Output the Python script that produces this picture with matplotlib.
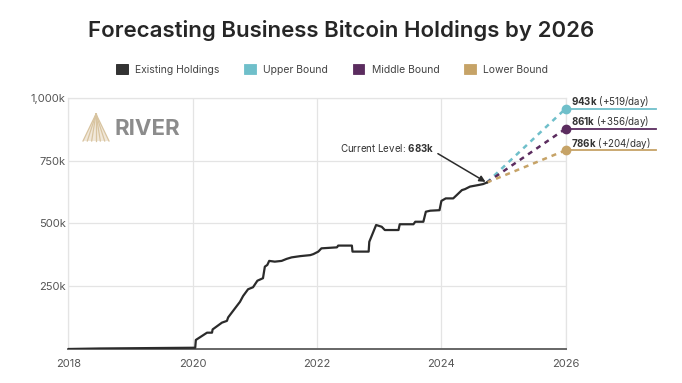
import numpy as np
import matplotlib
matplotlib.use('Agg')
import matplotlib.pyplot as plt
from matplotlib.patches import Patch, Polygon
from matplotlib.lines import Line2D
from matplotlib.ticker import FuncFormatter

plt.rcParams['font.family'] = ['Inter', 'DejaVu Sans']
plt.rcParams['mathtext.fontset'] = 'custom'
plt.rcParams['mathtext.rm'] = 'Inter'
plt.rcParams['mathtext.bf'] = 'Inter:bold'

# ── DATA ──
hold_years = [2018.0, 2018.5, 2019.0, 2019.5, 2020.04, 2020.05, 2020.23,
              2020.31, 2020.32, 2020.47, 2020.55, 2020.57, 2020.68, 2020.76,
              2020.81, 2020.89, 2020.97, 2021.04, 2021.13, 2021.16, 2021.20,
              2021.23, 2021.32, 2021.43, 2021.51, 2021.59, 2021.73, 2021.89,
              2021.94, 2022.02, 2022.07, 2022.32, 2022.34, 2022.56, 2022.57,
              2022.83, 2022.84, 2022.95, 2023.04, 2023.09, 2023.31, 2023.33,
              2023.55, 2023.58, 2023.71, 2023.75, 2023.82, 2023.97, 2024.0,
              2024.07, 2024.19, 2024.25, 2024.33, 2024.38, 2024.46, 2024.59,
              2024.67, 2024.73]
hold_k = [0, 2, 3, 4, 5, 36, 65, 65, 78, 105, 112, 126, 162, 188, 211, 238,
          246, 272, 282, 328, 335, 351, 348, 351, 359, 365, 370, 374, 378,
          388, 401, 405, 412, 412, 388, 388, 427, 494, 487, 474, 474, 497,
          497, 507, 507, 547, 551, 553, 590, 600, 600, 614, 633, 637, 647,
          653, 657, 663]

bound_names = ['Upper Bound', 'Middle Bound', 'Lower Bound']
bound_colors = ['#6fbfca', '#5b2c5f', '#c6a367']
bound_end_k = [958, 878, 792]          # where the dots sit
bound_labels = ['943k', '861k', '786k']
bound_rates = ['+519/day', '+356/day', '+204/day']
target_year = 2026
current_label = '683k'

line_col = '#2b2b2b'
grid_col = '#e4e4e4'
tick_col = '#555555'

fig = plt.figure(figsize=(6.82, 3.83), dpi=100)
ax = fig.add_axes([0.1003, 0.0888, 0.7292, 0.6553])

# existing holdings
hy = np.array(hold_years)
hv = np.array(hold_k) * 1000
ax.plot(hy, hv, color=line_col, lw=1.6, solid_joinstyle='round', zorder=5)

# projections
for c, v in zip(bound_colors, bound_end_k):
    ax.plot([hy[-1], target_year], [hv[-1], v * 1000], color=c, lw=1.8,
            ls=(0, (2, 2)), zorder=4)
    ax.plot([target_year, 2027.46], [v * 1000, v * 1000], color=c, lw=1.3,
            clip_on=False, zorder=4)
    ax.plot(target_year, v * 1000, 'o', color=c, ms=6, clip_on=False,
            zorder=6)

for v, lab, rate in zip(bound_end_k, bound_labels, bound_rates):
    ax.text(target_year + 0.09, v * 1000 + 28000,
            r'$\mathbf{' + lab + '}$ (' + rate + ')',
            fontsize=7, color='#333333', va='center', ha='left',
            clip_on=False)

# annotation
ax.annotate(r'Current Level: $\mathbf{' + current_label + '}$',
            xy=(hy[-1], hv[-1]), xytext=(2023.88, 802000),
            ha='right', va='center', fontsize=7, color='#333333',
            arrowprops=dict(arrowstyle='-|>', color=line_col, lw=1.1,
                            relpos=(1.0, 0.2), shrinkA=1, shrinkB=1,
                            mutation_scale=9))

# axes styling
ax.set_xlim(2018, 2026)
ax.set_ylim(0, 1000000)
ax.set_xticks([2018, 2020, 2022, 2024, 2026])
ax.set_yticks([250000, 500000, 750000, 1000000])
ax.yaxis.set_major_formatter(FuncFormatter(lambda v, p: f'{int(v/1000):,}k'))
ax.tick_params(axis='both', length=0, labelsize=8, labelcolor=tick_col)
ax.tick_params(axis='x', pad=7)
ax.tick_params(axis='y', pad=2)
ax.grid(True, color=grid_col, lw=0.9)
ax.set_axisbelow(True)
for s in ['top', 'right', 'left']:
    ax.spines[s].set_color(grid_col)
    ax.spines[s].set_linewidth(0.9)
ax.spines['bottom'].set_color('#666666')
ax.spines['bottom'].set_linewidth(1.4)

# title & legend
fig.text(0.5, 0.92, 'Forecasting Business Bitcoin Holdings by 2026',
         ha='center', va='center', fontsize=16, fontweight='semibold',
         color='#262626')
handles = [Patch(facecolor='#333333', edgecolor='#222222', lw=0.6)]
handles += [Patch(facecolor=c, edgecolor=c, lw=0.6) for c in bound_colors]
fig.legend(handles, ['Existing Holdings'] + bound_names, ncol=4,
           loc='center', bbox_to_anchor=(0.487, 0.818), frameon=False,
           fontsize=7.5, handlelength=1.1, handleheight=1.1,
           handletextpad=0.7, columnspacing=2.4, labelcolor='#444444')

# watermark logo
W, H = 682, 383
apex = (96 / W, 1 - 114 / H)
fig.add_artist(Polygon([apex, (83 / W, 1 - 141 / H), (109 / W, 1 - 141 / H)],
                       closed=True, facecolor='#f1e8da', edgecolor='none',
                       transform=fig.transFigure))
for bx in np.linspace(83, 109, 7):
    fig.add_artist(Line2D([apex[0], bx / W], [apex[1], 1 - 141 / H],
                          color='#d8c4a0', lw=0.9))
fig.text(114 / W, 1 - 129 / H, 'RIVER', fontsize=16, fontweight='bold',
         color='#8c8c8c', ha='left', va='center')

fig.savefig('out.png', dpi=100)
